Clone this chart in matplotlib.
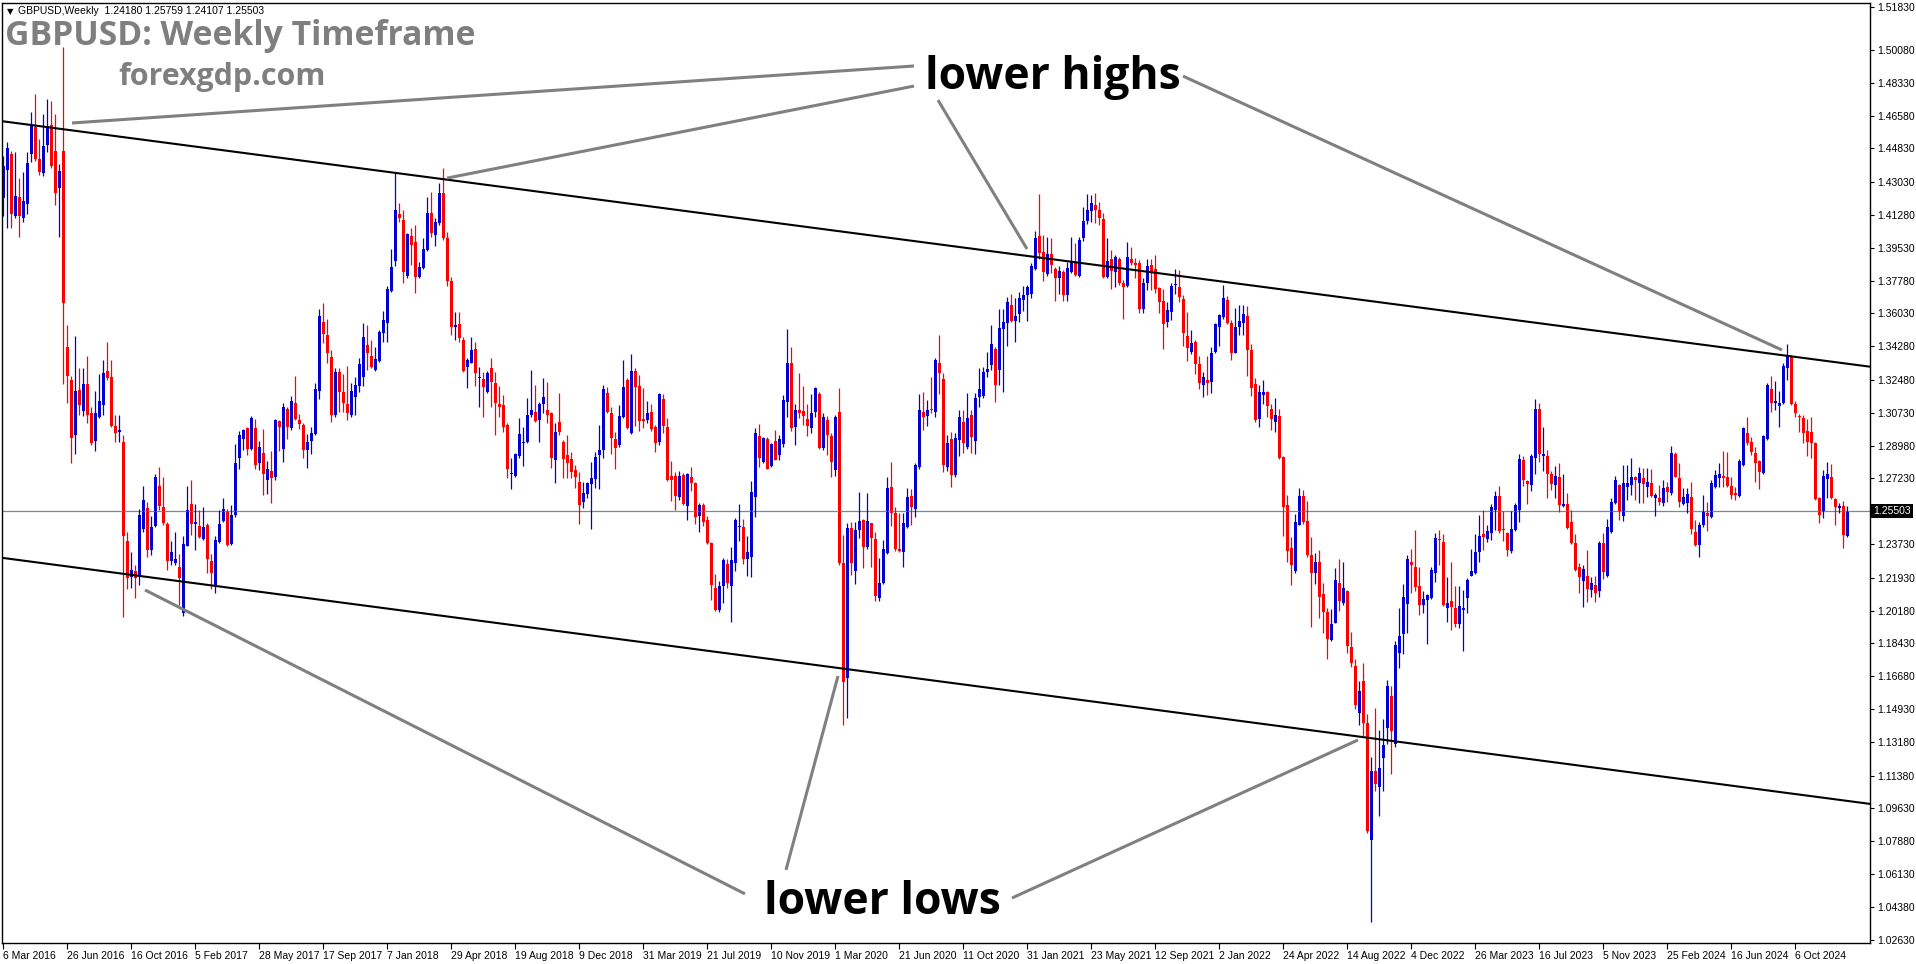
import matplotlib
matplotlib.use('Agg')
import matplotlib.pyplot as plt
import numpy as np
import pandas as pd

# weekly GBPUSD candles (first week = 6 Mar 2016)
opens = [
    1.4219, 1.4367, 1.4451, 1.4125, 1.4224, 1.4114, 1.4188, 1.4451, 1.4599, 1.4426,
    1.4352, 1.4504, 1.4607, 1.4472, 1.4272, 1.4472, 1.3425, 1.3250, 1.2955, 1.3197,
    1.3081, 1.3229, 1.3071, 1.2923, 1.3050, 1.3113, 1.3296, 1.3264, 1.3003, 1.2969,
    1.2919, 1.2390, 1.2196, 1.2227, 1.2200, 1.2455, 1.2565, 1.2343, 1.2470, 1.2681,
    1.2569, 1.2480, 1.2280, 1.2270, 1.2248, 1.2006, 1.2364, 1.2586, 1.2480, 1.2470,
    1.2400, 1.2474, 1.2284, 1.2154, 1.2386, 1.2495, 1.2544, 1.2375, 1.2527, 1.2832,
    1.2934, 1.2990, 1.2881, 1.2992, 1.2803, 1.2860, 1.2712, 1.2765, 1.2733, 1.3028,
    1.2881, 1.3092, 1.2990, 1.3123, 1.3035, 1.3007, 1.2875, 1.2923, 1.2959, 1.3187,
    1.3559, 1.3488, 1.3373, 1.3062, 1.3293, 1.3186, 1.3120, 1.3062, 1.3156, 1.3216,
    1.3266, 1.3435, 1.3376, 1.3302, 1.3351, 1.3501, 1.3554, 1.3725, 1.3885, 1.4132,
    1.4102, 1.3803, 1.4016, 1.3982, 1.3799, 1.3844, 1.3942, 1.4141, 1.4022, 1.4088,
    1.4244, 1.4004, 1.3776, 1.3533, 1.3547, 1.3462, 1.3316, 1.3341, 1.3412, 1.3257,
    1.3252, 1.3186, 1.3311, 1.3234, 1.3120, 1.3115, 1.3008, 1.2747, 1.2736, 1.2843,
    1.2911, 1.2919, 1.3062, 1.3079, 1.3035, 1.3120, 1.3088, 1.3070, 1.2822, 1.3026,
    1.2919, 1.2848, 1.2825, 1.2768, 1.2706, 1.2599, 1.2638, 1.2693, 1.2719, 1.2848,
    1.2875, 1.3181, 1.3070, 1.2932, 1.2901, 1.3053, 1.3248, 1.2967, 1.3297, 1.3216,
    1.3040, 1.3034, 1.3075, 1.2999, 1.2919, 1.3146, 1.2995, 1.2735, 1.2735, 1.2625,
    1.2741, 1.2576, 1.2732, 1.2696, 1.2522, 1.2581, 1.2501, 1.2380, 1.2136, 1.2021,
    1.2149, 1.2266, 1.2149, 1.2270, 1.2466, 1.2462, 1.2291, 1.2305, 1.2625, 1.2949,
    1.2812, 1.2931, 1.2789, 1.2922, 1.2848, 1.2906, 1.3132, 1.3337, 1.2999, 1.3088,
    1.3082, 1.3038, 1.2990, 1.3079, 1.3176, 1.2883, 1.3034, 1.2949, 1.2768, 1.3075,
    1.2270, 1.1656, 1.2460, 1.2231, 1.2448, 1.2501, 1.2359, 1.2483, 1.2398, 1.2083,
    1.2167, 1.2323, 1.2679, 1.2536, 1.2344, 1.2332, 1.2465, 1.2629, 1.2558, 1.2785,
    1.3079, 1.3056, 1.3092, 1.3079, 1.3337, 1.3251, 1.2782, 1.2931, 1.2741, 1.2928,
    1.3026, 1.2889, 1.3061, 1.2924, 1.3159, 1.3163, 1.3292, 1.3328, 1.3411, 1.3300,
    1.3520, 1.3554, 1.3648, 1.3564, 1.3600, 1.3675, 1.3701, 1.3707, 1.3838, 1.4016,
    1.3932, 1.3813, 1.3920, 1.3840, 1.3790, 1.3826, 1.3701, 1.3826, 1.3879, 1.3803,
    1.4004, 1.4096, 1.4151, 1.4181, 1.4155, 1.4105, 1.3795, 1.3892, 1.3826, 1.3892,
    1.3763, 1.3749, 1.3892, 1.3870, 1.3870, 1.3625, 1.3763, 1.3861, 1.3838, 1.3737,
    1.3669, 1.3559, 1.3612, 1.3755, 1.3742, 1.3680, 1.3483, 1.3399, 1.3452, 1.3331,
    1.3221, 1.3248, 1.3239, 1.3399, 1.3529, 1.3582, 1.3675, 1.3554, 1.3394, 1.3532,
    1.3550, 1.3589, 1.3408, 1.3229, 1.3039, 1.3170, 1.3186, 1.3093, 1.3025, 1.3054,
    1.2837, 1.2579, 1.2352, 1.2230, 1.2476, 1.2628, 1.2496, 1.2317, 1.2216, 1.2275,
    1.2104, 1.2010, 1.1862, 1.1953, 1.2166, 1.2061, 1.2123, 1.1823, 1.1722, 1.1474,
    1.1643, 1.1416, 1.0795, 1.1164, 1.1076, 1.1232, 1.1390, 1.1565, 1.1309, 1.1790,
    1.1891, 1.2055, 1.2275, 1.2250, 1.2147, 1.2050, 1.2075, 1.2085, 1.2216, 1.2401,
    1.2385, 1.2030, 1.2069, 1.2030, 1.1949, 1.2023, 1.2085, 1.2205, 1.2220, 1.2333,
    1.2424, 1.2399, 1.2434, 1.2554, 1.2628, 1.2453, 1.2434, 1.2337, 1.2449, 1.2554,
    1.2821, 1.2709, 1.2686, 1.2831, 1.3093, 1.2841, 1.2841, 1.2748, 1.2690, 1.2728,
    1.2576, 1.2587, 1.2493, 1.2381, 1.2253, 1.2178, 1.2203, 1.2128, 1.2155, 1.2125,
    1.2377, 1.2203, 1.2439, 1.2590, 1.2688, 1.2523, 1.2679, 1.2688, 1.2729, 1.2697,
    1.2724, 1.2679, 1.2697, 1.2621, 1.2617, 1.2594, 1.2676, 1.2644, 1.2854, 1.2724,
    1.2587, 1.2594, 1.2622, 1.2439, 1.2368, 1.2475, 1.2541, 1.2516, 1.2679, 1.2724,
    1.2736, 1.2733, 1.2683, 1.2644, 1.2630, 1.2795, 1.2967, 1.2919, 1.2861, 1.2818,
    1.2754, 1.2932, 1.3199, 1.3127, 1.3110, 1.3124, 1.3311, 1.3376, 1.3120, 1.3056,
    1.3044, 1.2978, 1.2973, 1.2911, 1.2617, 1.2550, 1.2718, 1.2733, 1.2612, 1.2564,
    1.2576, 1.24180,
]
highs = [
    1.4441, 1.4515, 1.4472, 1.4462, 1.4325, 1.4356, 1.4462, 1.4677, 1.4774, 1.4536,
    1.4666, 1.4746, 1.4736, 1.4666, 1.4399, 1.5025, 1.3539, 1.3271, 1.3482, 1.3313,
    1.3313, 1.3376, 1.3102, 1.3187, 1.3281, 1.3355, 1.3450, 1.3355, 1.3064, 1.3060,
    1.2955, 1.2438, 1.2333, 1.2263, 1.2560, 1.2681, 1.2596, 1.2522, 1.2744, 1.2782,
    1.2733, 1.2491, 1.2390, 1.2438, 1.2322, 1.2417, 1.2681, 1.2712, 1.2586, 1.2554,
    1.2569, 1.2485, 1.2318, 1.2417, 1.2554, 1.2617, 1.2558, 1.2579, 1.2908, 1.2976,
    1.2986, 1.2997, 1.3054, 1.3039, 1.2923, 1.2986, 1.2818, 1.2870, 1.3039, 1.3035,
    1.3123, 1.3102, 1.3165, 1.3271, 1.3066, 1.3018, 1.2959, 1.2997, 1.3233, 1.3625,
    1.3661, 1.3574, 1.3408, 1.3311, 1.3311, 1.3280, 1.3323, 1.3230, 1.3266, 1.3364,
    1.3554, 1.3542, 1.3462, 1.3426, 1.3515, 1.3616, 1.3750, 1.3947, 1.4354, 1.4191,
    1.4155, 1.4031, 1.4057, 1.4075, 1.3879, 1.4004, 1.4226, 1.4249, 1.4111, 1.4301,
    1.4377, 1.4039, 1.3796, 1.3613, 1.3613, 1.3479, 1.3364, 1.3479, 1.3453, 1.3319,
    1.3293, 1.3298, 1.3364, 1.3293, 1.3216, 1.3168, 1.3017, 1.2830, 1.2861, 1.3044,
    1.2999, 1.3150, 1.3302, 1.3222, 1.3133, 1.3257, 1.3239, 1.3079, 1.3017, 1.3177,
    1.2928, 1.2955, 1.2866, 1.2795, 1.2759, 1.2706, 1.2706, 1.2813, 1.2866, 1.3008,
    1.3222, 1.3213, 1.3102, 1.2973, 1.3115, 1.3355, 1.3257, 1.3386, 1.3310, 1.3274,
    1.3203, 1.3137, 1.3120, 1.3008, 1.3180, 1.3173, 1.3047, 1.2816, 1.2759, 1.2764,
    1.2750, 1.2750, 1.2782, 1.2705, 1.2590, 1.2590, 1.2522, 1.2385, 1.2213, 1.2177,
    1.2296, 1.2291, 1.2359, 1.2510, 1.2586, 1.2504, 1.2416, 1.2709, 1.2990, 1.3013,
    1.2945, 1.2945, 1.2910, 1.2984, 1.2954, 1.3168, 1.3518, 1.3425, 1.3120, 1.3283,
    1.3216, 1.3120, 1.3173, 1.3212, 1.3185, 1.3073, 1.3056, 1.2963, 1.3061, 1.3203,
    1.2421, 1.2483, 1.2492, 1.2492, 1.2652, 1.2504, 1.2643, 1.2487, 1.2439, 1.2296,
    1.2394, 1.2732, 1.2812, 1.2572, 1.2540, 1.2536, 1.2670, 1.2665, 1.2807, 1.3173,
    1.3185, 1.3141, 1.3265, 1.3363, 1.3488, 1.3283, 1.2955, 1.2972, 1.2963, 1.3088,
    1.3088, 1.3177, 1.3088, 1.3177, 1.3310, 1.3315, 1.3399, 1.3541, 1.3426, 1.3625,
    1.3625, 1.3692, 1.3707, 1.3683, 1.3719, 1.3749, 1.3755, 1.3870, 1.4044, 1.4240,
    1.4021, 1.4012, 1.4004, 1.3852, 1.3856, 1.3835, 1.3879, 1.4009, 1.3977, 1.4012,
    1.4172, 1.4240, 1.4235, 1.4247, 1.4199, 1.4137, 1.4004, 1.3941, 1.3915, 1.3906,
    1.3781, 1.3986, 1.3959, 1.3897, 1.3888, 1.3790, 1.3892, 1.3892, 1.3915, 1.3746,
    1.3731, 1.3666, 1.3767, 1.3838, 1.3835, 1.3701, 1.3612, 1.3515, 1.3461, 1.3376,
    1.3292, 1.3376, 1.3426, 1.3550, 1.3600, 1.3755, 1.3696, 1.3568, 1.3630, 1.3648,
    1.3648, 1.3643, 1.3440, 1.3260, 1.3219, 1.3250, 1.3190, 1.3122, 1.3151, 1.3093,
    1.2845, 1.2637, 1.2410, 1.2531, 1.2670, 1.2662, 1.2604, 1.2410, 1.2327, 1.2341,
    1.2166, 1.2030, 1.2026, 1.2244, 1.2294, 1.2279, 1.2127, 1.1906, 1.1759, 1.1643,
    1.1739, 1.1464, 1.1235, 1.1499, 1.1383, 1.1441, 1.1648, 1.1615, 1.1856, 1.2030,
    1.2158, 1.2317, 1.2346, 1.2449, 1.2250, 1.2120, 1.2104, 1.2250, 1.2434, 1.2449,
    1.2424, 1.2197, 1.2275, 1.2147, 1.2147, 1.2127, 1.2191, 1.2346, 1.2424, 1.2527,
    1.2554, 1.2476, 1.2589, 1.2657, 1.2682, 1.2550, 1.2438, 1.2550, 1.2593, 1.2851,
    1.2841, 1.2715, 1.2851, 1.3147, 1.3128, 1.3000, 1.2876, 1.2763, 1.2787, 1.2806,
    1.2747, 1.2644, 1.2555, 1.2427, 1.2270, 1.2262, 1.2342, 1.2196, 1.2203, 1.2391,
    1.2434, 1.2505, 1.2617, 1.2736, 1.2694, 1.2795, 1.2795, 1.2830, 1.2736, 1.2786,
    1.2777, 1.2777, 1.2772, 1.2647, 1.2688, 1.2715, 1.2706, 1.2896, 1.2866, 1.2804,
    1.2671, 1.2671, 1.2706, 1.2502, 1.2493, 1.2635, 1.2599, 1.2715, 1.2768, 1.2804,
    1.2871, 1.2866, 1.2733, 1.2679, 1.2825, 1.2996, 1.3049, 1.2946, 1.2893, 1.2822,
    1.2955, 1.3234, 1.3270, 1.3245, 1.3191, 1.3341, 1.3440, 1.3382, 1.3138, 1.3067,
    1.3062, 1.3039, 1.3049, 1.2920, 1.2622, 1.2768, 1.2813, 1.2800, 1.2617, 1.2594,
    1.2605, 1.25759,
]
lows = [
    1.4125, 1.4061, 1.4061, 1.4114, 1.4009, 1.4093, 1.4131, 1.4409, 1.4415, 1.4342,
    1.4335, 1.4462, 1.4380, 1.4181, 1.4013, 1.3229, 1.3123, 1.2807, 1.2856, 1.3060,
    1.3056, 1.3018, 1.2902, 1.2870, 1.3043, 1.3060, 1.3246, 1.2997, 1.2917, 1.2917,
    1.1985, 1.2132, 1.2139, 1.2086, 1.2154, 1.2438, 1.2305, 1.2312, 1.2466, 1.2554,
    1.2474, 1.2234, 1.2259, 1.2263, 1.2048, 1.1989, 1.2360, 1.2423, 1.2343, 1.2406,
    1.2394, 1.2221, 1.2132, 1.2111, 1.2381, 1.2491, 1.2360, 1.2369, 1.2516, 1.2775,
    1.2877, 1.2849, 1.2875, 1.2775, 1.2769, 1.2632, 1.2638, 1.2592, 1.2712, 1.2870,
    1.2811, 1.2934, 1.2982, 1.3033, 1.2986, 1.2832, 1.2780, 1.2853, 1.2955, 1.3149,
    1.3447, 1.3337, 1.3026, 1.3053, 1.3079, 1.3079, 1.3035, 1.3050, 1.3062, 1.3186,
    1.3216, 1.3302, 1.3311, 1.3295, 1.3346, 1.3453, 1.3453, 1.3718, 1.3856, 1.4093,
    1.3767, 1.3794, 1.3862, 1.3714, 1.3790, 1.3838, 1.3938, 1.4013, 1.3963, 1.4075,
    1.3995, 1.3750, 1.3488, 1.3462, 1.3453, 1.3293, 1.3204, 1.3337, 1.3216, 1.3102,
    1.3049, 1.3181, 1.3106, 1.2955, 1.3053, 1.2973, 1.2724, 1.2665, 1.2733, 1.2830,
    1.2790, 1.2911, 1.3053, 1.3026, 1.2919, 1.3070, 1.3017, 1.2777, 1.2697, 1.2955,
    1.2724, 1.2724, 1.2724, 1.2670, 1.2480, 1.2564, 1.2617, 1.2452, 1.2670, 1.2665,
    1.2830, 1.3070, 1.2853, 1.2772, 1.2893, 1.3044, 1.2985, 1.2960, 1.3002, 1.2977,
    1.2990, 1.3020, 1.2977, 1.2865, 1.2901, 1.2967, 1.2709, 1.2604, 1.2554, 1.2608,
    1.2581, 1.2501, 1.2657, 1.2480, 1.2439, 1.2470, 1.2373, 1.2074, 1.2015, 1.2010,
    1.2060, 1.2136, 1.1959, 1.2231, 1.2391, 1.2266, 1.2202, 1.2195, 1.2515, 1.2785,
    1.2803, 1.2771, 1.2782, 1.2821, 1.2824, 1.2892, 1.3052, 1.2977, 1.2901, 1.3048,
    1.3008, 1.2949, 1.2963, 1.3052, 1.2878, 1.2874, 1.2848, 1.2728, 1.2736, 1.2261,
    1.1407, 1.1443, 1.2207, 1.2159, 1.2403, 1.2243, 1.2344, 1.2248, 1.2071, 1.2071,
    1.2159, 1.2319, 1.2469, 1.2337, 1.2332, 1.2252, 1.2456, 1.2474, 1.2519, 1.2776,
    1.2984, 1.3002, 1.3074, 1.3052, 1.3176, 1.2759, 1.2764, 1.2675, 1.2730, 1.2843,
    1.2857, 1.2880, 1.2857, 1.2853, 1.3102, 1.3150, 1.3266, 1.3301, 1.3132, 1.3220,
    1.3186, 1.3429, 1.3555, 1.3452, 1.3559, 1.3618, 1.3564, 1.3683, 1.3835, 1.3892,
    1.3778, 1.3803, 1.3817, 1.3671, 1.3707, 1.3671, 1.3671, 1.3817, 1.3803, 1.3799,
    1.3991, 1.4080, 1.4092, 1.4084, 1.4075, 1.3790, 1.3790, 1.3731, 1.3742, 1.3755,
    1.3571, 1.3746, 1.3861, 1.3790, 1.3603, 1.3607, 1.3728, 1.3728, 1.3714, 1.3607,
    1.3411, 1.3532, 1.3568, 1.3707, 1.3666, 1.3429, 1.3351, 1.3387, 1.3280, 1.3198,
    1.3159, 1.3168, 1.3177, 1.3390, 1.3429, 1.3571, 1.3547, 1.3355, 1.3390, 1.3488,
    1.3488, 1.3269, 1.3165, 1.3025, 1.3000, 1.3122, 1.3050, 1.2980, 1.2973, 1.2825,
    1.2414, 1.2275, 1.2152, 1.2216, 1.2472, 1.2482, 1.2302, 1.1933, 1.2162, 1.1978,
    1.1900, 1.1759, 1.1856, 1.1950, 1.2017, 1.2046, 1.1790, 1.1716, 1.1493, 1.1406,
    1.1348, 1.0834, 1.0359, 1.1057, 1.0921, 1.1057, 1.1309, 1.1144, 1.1290, 1.1712,
    1.1784, 1.1900, 1.2114, 1.2120, 1.1992, 1.2003, 1.1842, 1.2080, 1.2172, 1.2263,
    1.2040, 1.1959, 1.1914, 1.1930, 1.1926, 1.1803, 1.2007, 1.2201, 1.2211, 1.2279,
    1.2341, 1.2385, 1.2395, 1.2449, 1.2430, 1.2391, 1.2308, 1.2327, 1.2445, 1.2492,
    1.2682, 1.2589, 1.2657, 1.2748, 1.2812, 1.2763, 1.2618, 1.2662, 1.2618, 1.2546,
    1.2569, 1.2452, 1.2374, 1.2231, 1.2110, 1.2036, 1.2066, 1.2089, 1.2066, 1.2089,
    1.2185, 1.2199, 1.2434, 1.2587, 1.2502, 1.2498, 1.2608, 1.2635, 1.2608, 1.2594,
    1.2594, 1.2626, 1.2626, 1.2523, 1.2582, 1.2576, 1.2599, 1.2635, 1.2729, 1.2573,
    1.2582, 1.2541, 1.2427, 1.2363, 1.2302, 1.2466, 1.2445, 1.2511, 1.2671, 1.2679,
    1.2676, 1.2679, 1.2612, 1.2608, 1.2626, 1.2790, 1.2902, 1.2848, 1.2706, 1.2665,
    1.2747, 1.2928, 1.3079, 1.3088, 1.3000, 1.3120, 1.3248, 1.3115, 1.3049, 1.2973,
    1.2911, 1.2843, 1.2831, 1.2608, 1.2484, 1.2511, 1.2617, 1.2612, 1.2475, 1.2537,
    1.2350, 1.24107,
]
closes = [
    1.4388, 1.4483, 1.4135, 1.4230, 1.4125, 1.4203, 1.4405, 1.4603, 1.4426, 1.4356,
    1.4498, 1.4603, 1.4388, 1.4247, 1.4361, 1.3661, 1.3271, 1.2938, 1.3187, 1.3113,
    1.3229, 1.3060, 1.2912, 1.3071, 1.3134, 1.3286, 1.3260, 1.3001, 1.2965, 1.2982,
    1.2417, 1.2192, 1.2232, 1.2192, 1.2527, 1.2607, 1.2343, 1.2463, 1.2733, 1.2575,
    1.2485, 1.2280, 1.2333, 1.2291, 1.2192, 1.2375, 1.2554, 1.2480, 1.2491, 1.2411,
    1.2463, 1.2291, 1.2217, 1.2396, 1.2478, 1.2558, 1.2369, 1.2527, 1.2807, 1.2955,
    1.2984, 1.2881, 1.3045, 1.2797, 1.2891, 1.2744, 1.2775, 1.2723, 1.3033, 1.2997,
    1.3106, 1.2997, 1.3134, 1.3039, 1.3012, 1.2875, 1.2917, 1.2965, 1.3201, 1.3587,
    1.3494, 1.3394, 1.3062, 1.3293, 1.3186, 1.3124, 1.3070, 1.3191, 1.3222, 1.3334,
    1.3476, 1.3390, 1.3319, 1.3358, 1.3506, 1.3568, 1.3732, 1.3849, 1.4155, 1.4114,
    1.3826, 1.4027, 1.3968, 1.3799, 1.3853, 1.3947, 1.4141, 1.4031, 1.4093, 1.4244,
    1.4004, 1.3778, 1.3533, 1.3542, 1.3470, 1.3298, 1.3355, 1.3408, 1.3287, 1.3266,
    1.3209, 1.3287, 1.3239, 1.3127, 1.3102, 1.2999, 1.2772, 1.2754, 1.2853, 1.2960,
    1.2919, 1.3062, 1.3088, 1.3031, 1.3120, 1.3159, 1.3062, 1.2830, 1.2973, 1.2973,
    1.2825, 1.2804, 1.2759, 1.2733, 1.2581, 1.2644, 1.2697, 1.2724, 1.2836, 1.2875,
    1.3198, 1.3079, 1.2937, 1.2887, 1.3056, 1.3209, 1.2990, 1.3296, 1.3212, 1.3031,
    1.3031, 1.3070, 1.2986, 1.2913, 1.3176, 1.3004, 1.2714, 1.2714, 1.2629, 1.2736,
    1.2586, 1.2746, 1.2696, 1.2519, 1.2581, 1.2490, 1.2376, 1.2154, 1.2021, 1.2149,
    1.2288, 1.2163, 1.2288, 1.2501, 1.2469, 1.2291, 1.2332, 1.2652, 1.2963, 1.2830,
    1.2937, 1.2776, 1.2906, 1.2824, 1.2931, 1.3141, 1.3337, 1.2993, 1.3088, 1.3073,
    1.3056, 1.3002, 1.3070, 1.3208, 1.2883, 1.3052, 1.2954, 1.2812, 1.3052, 1.2270,
    1.1639, 1.2456, 1.2270, 1.2448, 1.2497, 1.2359, 1.2497, 1.2403, 1.2095, 1.2167,
    1.2344, 1.2670, 1.2540, 1.2344, 1.2337, 1.2483, 1.2622, 1.2568, 1.2794, 1.3088,
    1.3052, 1.3088, 1.3088, 1.3354, 1.3283, 1.2794, 1.2914, 1.2741, 1.2937, 1.3049,
    1.2910, 1.3043, 1.2946, 1.3150, 1.3198, 1.3292, 1.3305, 1.3440, 1.3221, 1.3523,
    1.3555, 1.3662, 1.3564, 1.3589, 1.3687, 1.3701, 1.3746, 1.3856, 1.4004, 1.3927,
    1.3826, 1.3920, 1.3861, 1.3790, 1.3831, 1.3701, 1.3843, 1.3884, 1.3808, 1.3995,
    1.4096, 1.4155, 1.4190, 1.4155, 1.4110, 1.3795, 1.3884, 1.3831, 1.3902, 1.3763,
    1.3746, 1.3902, 1.3874, 1.3861, 1.3625, 1.3763, 1.3856, 1.3826, 1.3731, 1.3666,
    1.3547, 1.3621, 1.3749, 1.3760, 1.3692, 1.3497, 1.3417, 1.3447, 1.3331, 1.3230,
    1.3262, 1.3230, 1.3394, 1.3547, 1.3595, 1.3683, 1.3554, 1.3394, 1.3532, 1.3564,
    1.3600, 1.3408, 1.3205, 1.3035, 1.3186, 1.3186, 1.3108, 1.3039, 1.3064, 1.2831,
    1.2569, 1.2337, 1.2259, 1.2492, 1.2631, 1.2488, 1.2313, 1.2216, 1.2275, 1.2088,
    1.2010, 1.1867, 1.1949, 1.2182, 1.2069, 1.2139, 1.1829, 1.1736, 1.1513, 1.1590,
    1.1421, 1.0844, 1.1164, 1.1092, 1.1177, 1.1299, 1.1615, 1.1377, 1.1836, 1.1881,
    1.2088, 1.2294, 1.2263, 1.2143, 1.2050, 1.2081, 1.2100, 1.2236, 1.2405, 1.2395,
    1.2050, 1.2061, 1.2036, 1.1945, 1.2042, 1.2030, 1.2182, 1.2230, 1.2333, 1.2414,
    1.2410, 1.2443, 1.2573, 1.2631, 1.2443, 1.2449, 1.2341, 1.2453, 1.2583, 1.2825,
    1.2715, 1.2695, 1.2841, 1.3093, 1.2851, 1.2851, 1.2748, 1.2695, 1.2734, 1.2579,
    1.2587, 1.2457, 1.2377, 1.2235, 1.2199, 1.2238, 1.2132, 1.2164, 1.2114, 1.2377,
    1.2226, 1.2462, 1.2599, 1.2715, 1.2546, 1.2697, 1.2697, 1.2733, 1.2715, 1.2750,
    1.2694, 1.2706, 1.2631, 1.2635, 1.2599, 1.2671, 1.2653, 1.2857, 1.2733, 1.2599,
    1.2626, 1.2640, 1.2452, 1.2368, 1.2475, 1.2546, 1.2523, 1.2701, 1.2742, 1.2747,
    1.2724, 1.2683, 1.2635, 1.2635, 1.2818, 1.2990, 1.2914, 1.2866, 1.2804, 1.2759,
    1.2950, 1.3222, 1.3127, 1.3138, 1.3127, 1.3323, 1.3376, 1.3120, 1.3071, 1.3049,
    1.2964, 1.2919, 1.2914, 1.2612, 1.2528, 1.2736, 1.2747, 1.2617, 1.2569, 1.2576,
    1.2422, 1.25503,
]

first_week = '2016-03-06'
label_step = 16
last_price = 1.25503
header = 'GBPUSD,Weekly  1.24180 1.25759 1.24107 1.25503'

# MT4 price scale labels
price_labels = ['1.50080', '1.48330', '1.46580', '1.44830', '1.43030', '1.41280',
                '1.39530', '1.37780', '1.36030', '1.34280', '1.32480', '1.30730',
                '1.28980', '1.27230', '1.23730', '1.21930', '1.20180', '1.18430',
                '1.16680', '1.14930', '1.13180', '1.11380', '1.09630', '1.07880',
                '1.06130', '1.04380', '1.02630']
top_label = '1.51830'

# channel lines (week index, price)
upper_channel = ([-0.75, 466.75], [1.4630, 1.3319])
lower_channel = ([-0.75, 466.75], [1.2301, 1.0987])

# grey pointer lines (week index, price)
high_pointers = [([227.75, 17.25], [1.4923, 1.4619]),
                 ([227.75, 111.0], [1.4816, 1.4325]),
                 ([233.75, 256.0], [1.4741, 1.3947]),
                 ([295.0, 444.75], [1.4869, 1.3408])]
low_pointers = [([185.5, 35.5], [1.0507, 1.2128]),
                ([195.75, 208.75], [1.0635, 1.1669]),
                ([252.25, 338.75], [1.0485, 1.1328])]

W, H = 1916, 964
fig = plt.figure(figsize=(W / 100, H / 100), dpi=100)
ax = fig.add_axes([2 / W, 21 / H, 1868 / W, 940 / H])

o = np.array(opens)
h = np.array(highs)
l = np.array(lows)
c = np.array(closes)
x = np.arange(len(c))
up = c >= o
cols = np.where(up, '#0000d0', '#ff0000')

ax.vlines(x, np.minimum(l, np.minimum(o, c)), np.maximum(h, np.maximum(o, c)),
          colors=cols, lw=0.9)
body = np.maximum(np.abs(c - o), 0.0005)
ax.bar(x, body, bottom=np.minimum(o, c), width=0.75, color=cols, linewidth=0)

ax.axhline(last_price, color='#778899', lw=0.9, zorder=1)

ax.plot(*upper_channel, color='black', lw=1.5, solid_capstyle='butt')
ax.plot(*lower_channel, color='black', lw=1.5, solid_capstyle='butt')
for xs, ys in high_pointers + low_pointers:
    ax.plot(xs, ys, color='#808080', lw=2.2, solid_capstyle='butt')

ax.text(230.5, 1.4800, 'lower highs', fontsize=32, fontweight='bold',
        family='Open Sans', ha='left', va='baseline', color='black')
ax.text(190.25, 1.0400, 'lower lows', fontsize=32, fontweight='bold',
        family='Open Sans', ha='left', va='baseline', color='black')

ax.set_xlim(-0.25, 466.75)
ax.set_ylim(1.0245, 1.5259)

# date axis
dates = pd.date_range(first_week, periods=len(c), freq='7D')
ticks = x[::label_step]
ax.set_xticks(ticks)
ax.set_xticklabels([f'{d.day} {d:%b %Y}' for d in dates[::label_step]],
                   ha='left', family='Liberation Sans', fontsize=7.5)
ax.tick_params(axis='x', length=4, width=0.8, pad=1.5, direction='out')

# price axis
ax.yaxis.tick_right()
yt = [float(s) for s in price_labels] + [1.5236]
ax.set_yticks(yt)
ax.set_yticklabels(price_labels + [top_label], family='Liberation Sans', fontsize=7.5)
ax.tick_params(axis='y', length=3, width=0.8, pad=2, direction='out')

for s in ax.spines.values():
    s.set_color('black')
    s.set_linewidth(1.0)

ax.text(1.0016, last_price, f'{last_price:.5f}', transform=ax.get_yaxis_transform(),
        color='white', fontsize=7.5, family='Liberation Sans', va='center', ha='left',
        bbox=dict(facecolor='black', edgecolor='none', pad=1.6))

# overlay texts
fig.text(7 / W, 1 - 14 / H, '\u25bc', fontsize=6, family='DejaVu Sans',
         va='baseline', ha='left')
fig.text(18 / W, 1 - 14 / H, header, fontsize=7.5, family='Liberation Sans',
         va='baseline', ha='left')
fig.text(5 / W, 1 - 45 / H, 'GBPUSD: Weekly Timeframe', fontsize=24.3,
         fontweight='bold', family='Open Sans', color='#7f7f7f',
         va='baseline', ha='left')
fig.text(118 / W, 1 - 85 / H, 'forexgdp.com', fontsize=21.9, fontweight='bold',
         family='Open Sans', color='#7f7f7f', va='baseline', ha='left')

fig.savefig('out.png', dpi=100)
